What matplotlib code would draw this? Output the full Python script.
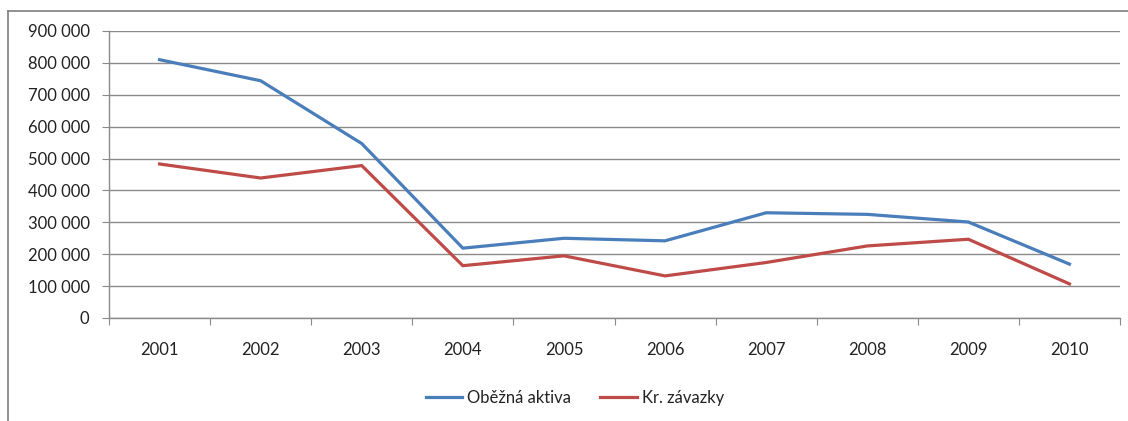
import numpy as np
import matplotlib.pyplot as plt
from matplotlib.lines import Line2D
from matplotlib.ticker import FuncFormatter

plt.rcParams['font.family'] = ['Lato', 'DejaVu Sans']

# Roky a hodnoty
roky = ['2001', '2002', '2003', '2004', '2005', '2006', '2007', '2008', '2009', '2010']
obezna_aktiva = [810000, 744000, 547000, 219000, 250000, 242000, 330000, 325000, 301000, 169000]
kr_zavazky = [483000, 439000, 478000, 164000, 195000, 132000, 174000, 226000, 247000, 107000]

fig = plt.figure(figsize=(11.28, 4.21), dpi=100)
ax = fig.add_axes([109 / 1128, 1 - 318 / 421, (1120 - 109) / 1128, (318 - 31) / 421])

x = np.arange(len(roky))
ax.plot(x, obezna_aktiva, color='#4A7EBB', lw=2.3, label='Oběžná aktiva', solid_joinstyle='round')
ax.plot(x, kr_zavazky, color='#BE4B48', lw=2.3, label='Kr. závazky', solid_joinstyle='round')

ax.set_xlim(-0.5, len(roky) - 0.5)
ax.set_ylim(0, 900000)

# osa y: mrizka po 100 000, mezera jako oddelovac tisicu
ax.set_yticks(np.arange(0, 900001, 100000))
ax.yaxis.set_major_formatter(FuncFormatter(lambda v, p: f'{int(v):,}'.replace(',', ' ')))
ax.grid(axis='y', color='#8a8a8a', lw=1)
ax.set_axisbelow(True)

# osa x: carky mezi kategoriemi, popisky uprostred
ax.set_xticks(np.arange(-0.5, len(roky), 1.0))
ax.set_xticklabels([])
ax.set_xticks(x, minor=True)
ax.set_xticklabels(roky, minor=True)
ax.tick_params(axis='x', which='minor', length=0, pad=17, labelsize=12, colors='#222222')
ax.tick_params(axis='x', which='major', length=5, color='#8a8a8a')
ax.tick_params(axis='y', length=5, color='#8a8a8a', labelsize=12, labelcolor='#222222', pad=9)

for s in ['top', 'right']:
    ax.spines[s].set_visible(False)
for s in ['left', 'bottom']:
    ax.spines[s].set_color('#8a8a8a')
    ax.spines[s].set_linewidth(1)

leg = fig.legend(loc='center', bbox_to_anchor=(575 / 1128, 1 - 398 / 421), ncol=2,
                 frameon=False, fontsize=12, handlelength=2.2, columnspacing=1.75, handletextpad=0.3)
for t in leg.get_texts():
    t.set_color('#222222')

# ramecek grafu (horni a leva hrana)
fig.add_artist(Line2D([7.5 / 1128, 7.5 / 1128], [0, 1 - 10.5 / 421], transform=fig.transFigure,
                      color='#7f7f7f', lw=1.2))
fig.add_artist(Line2D([7.5 / 1128, 1], [1 - 10.5 / 421, 1 - 10.5 / 421], transform=fig.transFigure,
                      color='#7f7f7f', lw=1.2))

fig.savefig('out.png', dpi=100)
